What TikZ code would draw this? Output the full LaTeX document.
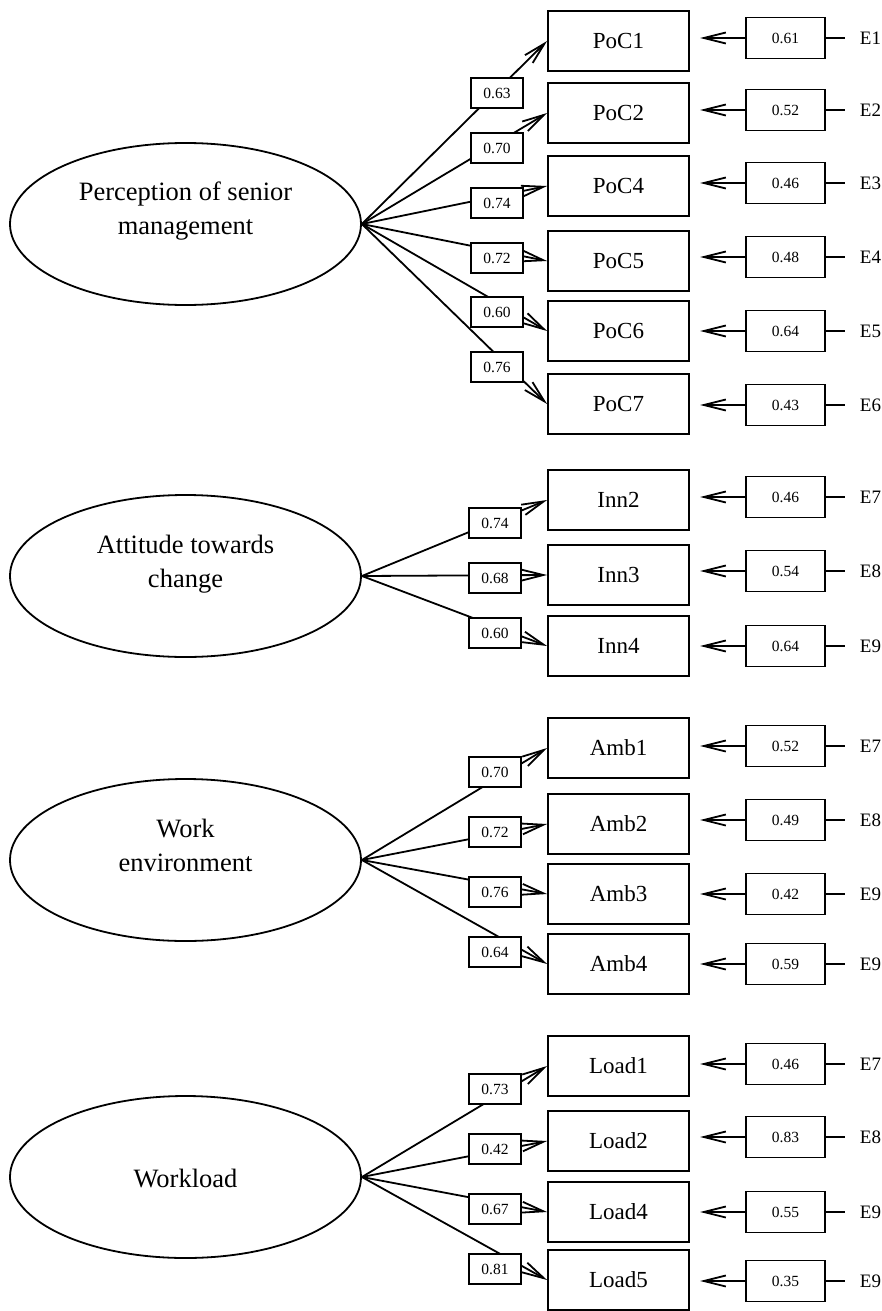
\documentclass[tikz,border=0pt]{standalone}
\usepackage{fontspec}
\setmainfont{Liberation Serif}
\usetikzlibrary{arrows.meta,shapes.geometric}
\begin{document}
\begin{tikzpicture}[x=1pt,y=-1pt,line width=1.8pt,
  >={Straight Barb[length=22pt,width=11pt]},
  latent/.style={draw,ellipse,minimum width=351pt,minimum height=162pt,inner sep=0pt},
  lattext/.style={align=center,font=\fontsize{26.5}{34}\selectfont},
  ind/.style={draw,rectangle,minimum width=141pt,minimum height=60pt,inner sep=0pt,font=\fontsize{23}{27}\selectfont},
  load/.style={draw,rectangle,fill=white,minimum width=52pt,minimum height=30pt,inner sep=0pt,font=\fontsize{15.5}{17}\selectfont},
  errbox/.style={draw,rectangle,minimum width=79pt,minimum height=41pt,inner sep=0pt,font=\fontsize{15.5}{17}\selectfont},
  elab/.style={anchor=west,inner sep=0pt,font=\fontsize{19}{22}\selectfont},
  arr/.style={->}
]
\fill[white] (0,0) rectangle (881,1311);
\useasboundingbox (0,0) rectangle (881,1311);

% ---------- latent variables ----------
\node[latent] (f1) at (185.5,224) {};
\node[lattext] (t1) at (185.5,211) {Perception of senior\\management};
\node[latent] (f2) at (185.5,576) {};
\node[lattext] (t2) at (185.5,564) {Attitude towards\\change};
\node[latent] (f3) at (185.5,860) {};
\node[lattext] (t3) at (185.5,845) {Work\\environment};
\node[latent] (f4) at (185.5,1177) {};
\node[lattext] (t4) at (185.5,1178) {Workload};

% ---------- indicators, error terms ----------
\foreach \f/\n/\y/\err/\ey/\e in {
  f1/PoC1/41/0.61/38/E1, f1/PoC2/113/0.52/110/E2, f1/PoC4/186/0.46/183/E3,
  f1/PoC5/261/0.48/257/E4, f1/PoC6/331/0.64/331/E5, f1/PoC7/404/0.43/405/E6,
  f2/Inn2/500/0.46/497/E7, f2/Inn3/575/0.54/571/E8, f2/Inn4/646/0.64/646/E9,
  f3/Amb1/748/0.52/746/E7, f3/Amb2/824/0.49/820/E8, f3/Amb3/894/0.42/894/E9,
  f3/Amb4/964/0.59/964/E9,
  f4/Load1/1066/0.46/1064/E7, f4/Load2/1141/0.83/1137/E8, f4/Load4/1212/0.55/1212/E9,
  f4/Load5/1280/0.35/1281/E9}{
  \node[ind] (i\n) at (618.5,\y) {\n};
  \draw[arr] (\f.east) -- (i\n.west);
  \node[errbox] (e\n) at (785.5,\ey) {\err};
  \draw[arr] (e\n.west) -- ++(-45,0);
  \node[elab] (l\n) at (859,\ey) {\e};
  \draw (e\n.east) -- ([xshift=-14pt]l\n.west);
}

% ---------- loading labels ----------
\foreach \n/\x/\y/\v in {
  PoC1/497/93/0.63, PoC2/497/148/0.70, PoC4/497/203/0.74,
  PoC5/497/258/0.72, PoC6/497/312/0.60, PoC7/497/367/0.76,
  Inn2/495/523/0.74, Inn3/495/578/0.68, Inn4/495/633/0.60,
  Amb1/495/772/0.70, Amb2/495/832/0.72, Amb3/495/892/0.76, Amb4/495/952/0.64,
  Load1/495/1089/0.73, Load2/495/1149/0.42, Load4/495/1209/0.67, Load5/495/1269/0.81}{
  \node[load] (w\n) at (\x,\y) {\v};
}
\end{tikzpicture}
\end{document}
